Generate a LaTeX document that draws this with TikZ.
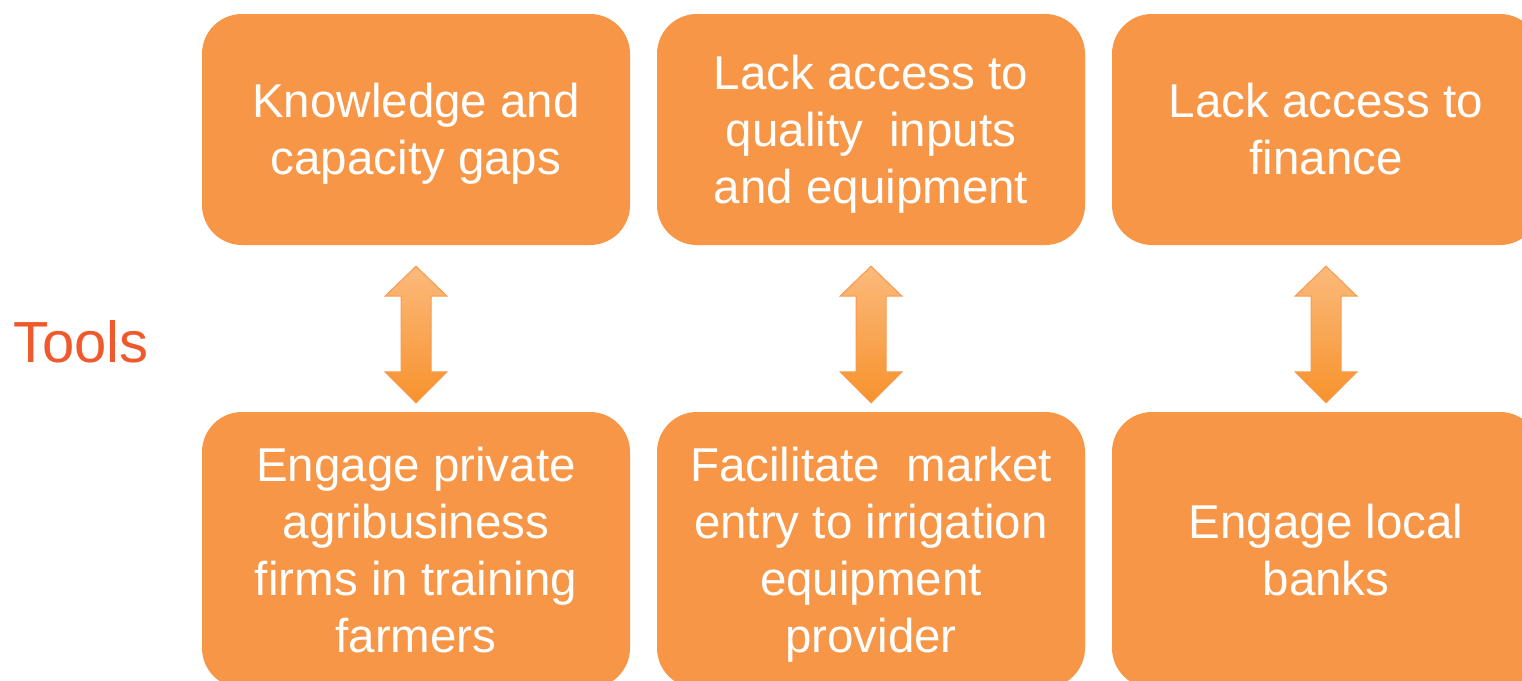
\documentclass[tikz,border=0pt]{standalone}
\usepackage{fontspec}
\setmainfont{Liberation Sans}
\usetikzlibrary{calc}
\definecolor{boxfill}{HTML}{F79646}
\definecolor{arrtop}{HTML}{FBBA7C}
\definecolor{arrbot}{HTML}{F7922C}
\definecolor{arredge}{HTML}{F79A50}
\definecolor{toolred}{HTML}{F0592B}
\newcommand\cardtext[1]{\begin{tabular}{@{}c@{}}\rule{0pt}{51pt}#1\end{tabular}}
\tikzset{
  card/.style={fill=boxfill, draw=none, rounded corners=40pt, minimum width=428pt,
    inner sep=0pt, text=white, font=\fontsize{47.5}{57}\selectfont},
  topcard/.style={card, minimum height=231pt},
  botcard/.style={card, minimum height=276pt},
  blockarrow/.style={draw=arredge, line width=1pt, top color=arrtop, bottom color=arrbot}
}
\newcommand\dblarrow[2]{%
  \path[blockarrow] ($(#1.south)+(0,21)$) coordinate (a) -- ++(31,30) -- ++(-16,0)
    -- ($(#2.north)+(15,-40)$) -- ++(16,0) -- ($(#2.north)+(0,-9)$)
    -- ++(-31,-31) -- ++(16,0) -- ($(a)+(-15,30)$) -- ++(-16,0) -- cycle;}
\begin{document}
\begin{tikzpicture}[x=1pt,y=-1pt]
\useasboundingbox (0,0) rectangle (1522,680);
\node[topcard] (t1) at (416,129.5) {\cardtext{Knowledge and\\capacity gaps}};
\node[topcard] (t2) at (871,129.5) {\cardtext{Lack access to\\quality~ inputs\\and equipment}};
\node[topcard] (t3) at (1326,129.5) {\cardtext{Lack access to\\finance}};
\node[botcard] (b1) at (416,550) {\cardtext{Engage private\\agribusiness\\firms in training\\farmers}};
\node[botcard] (b2) at (871,550) {\cardtext{Facilitate~ market\\entry to irrigation\\equipment\\provider}};
\node[botcard] (b3) at (1326,550) {\cardtext{Engage local\\banks}};
\node[text=toolred, font=\fontsize{58}{64}\selectfont, inner sep=0pt] (tools) at (81,342) {Tools};
\dblarrow{t1}{b1}
\dblarrow{t2}{b2}
\dblarrow{t3}{b3}
\end{tikzpicture}
\end{document}
